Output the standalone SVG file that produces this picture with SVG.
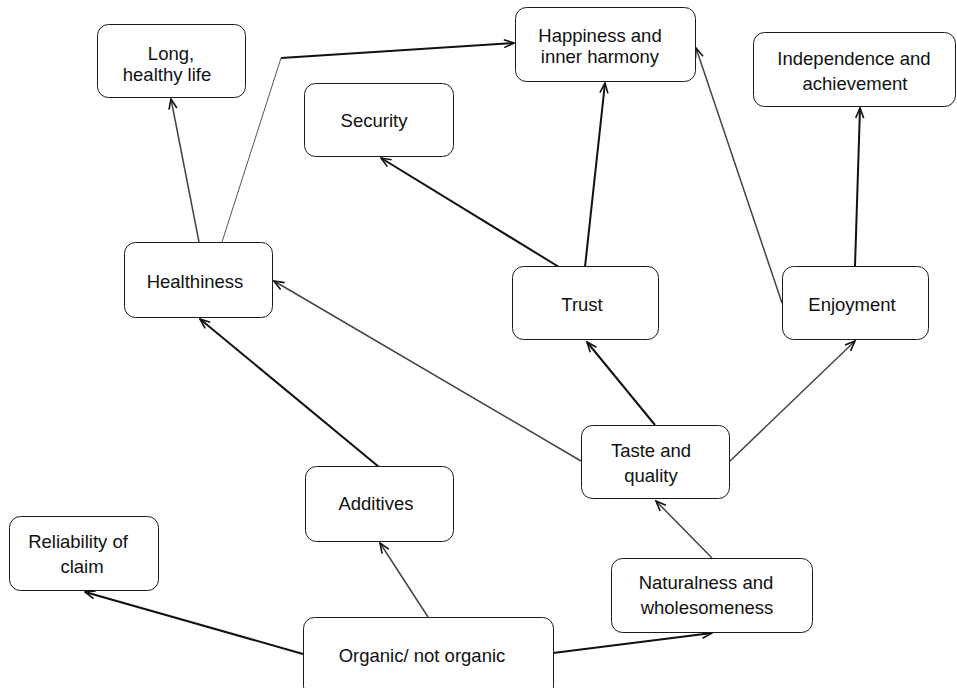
<svg xmlns="http://www.w3.org/2000/svg" width="957" height="688" viewBox="0 0 957 688">
  <style>
    .box { fill: #fff; stroke: #1a1a1a; stroke-width: 1; }
    .lbl { font-family: "Liberation Sans", Arial, sans-serif; font-size: 18.5px; fill: #111; text-anchor: middle; }
    .link { fill: none; stroke: #111; stroke-width: 2; marker-end: url(#arrow); }
    .link.soft { stroke: #444; stroke-width: 1.5; }
    .link.hair { stroke: #555; stroke-width: 1; marker-end: none; }
  </style>
  <defs>
    <marker id="arrow" viewBox="0 0 12 10" refX="11" refY="5" markerWidth="12" markerHeight="10" markerUnits="userSpaceOnUse" orient="auto">
      <path d="M1,1 L11,5 L1,9" fill="none" stroke="#111" stroke-width="1.6"/>
    </marker>
  </defs>

  <!-- connectors -->
  <g id="connectors">
    <line class="link soft" x1="199" y1="242" x2="171" y2="99"/>
    <polyline class="link hair" points="222,242 281,58"/>
    <line class="link" x1="281" y1="58" x2="514" y2="43"/>
    <line class="link" x1="559" y1="267" x2="381" y2="158"/>
    <line class="link" x1="585" y1="267" x2="605" y2="83"/>
    <line class="link soft" x1="782" y1="303" x2="696" y2="48"/>
    <line class="link" x1="855" y1="266" x2="860" y2="108"/>
    <line class="link" x1="655" y1="425" x2="587" y2="342"/>
    <line class="link soft" x1="729" y1="462" x2="855" y2="341"/>
    <line class="link soft" x1="581" y1="461" x2="274" y2="281"/>
    <line class="link" x1="379" y1="467" x2="200" y2="319"/>
    <line class="link soft" x1="712" y1="558" x2="656" y2="501"/>
    <line class="link soft" x1="428" y1="617" x2="380" y2="543"/>
    <line class="link" x1="303" y1="654" x2="85" y2="592"/>
    <line class="link" x1="553" y1="653" x2="712" y2="633"/>
  </g>

  <g id="long-healthy-life">
    <rect class="box" x="97.5" y="24.5" width="148" height="73" rx="11"/>
    <text class="lbl" x="171" y="60">Long,</text>
    <text class="lbl" x="167" y="81">healthy life</text>
  </g>

  <g id="happiness">
    <rect class="box" x="515.5" y="7.5" width="180" height="74" rx="11"/>
    <text class="lbl" x="600" y="42">Happiness and</text>
    <text class="lbl" x="600" y="63">inner harmony</text>
  </g>

  <g id="independence">
    <rect class="box" x="753.5" y="32.5" width="202" height="74" rx="11"/>
    <text class="lbl" x="854" y="65">Independence and</text>
    <text class="lbl" x="855" y="90">achievement</text>
  </g>

  <g id="security">
    <rect class="box" x="304.5" y="83.5" width="149" height="73" rx="11"/>
    <text class="lbl" x="374" y="127">Security</text>
  </g>

  <g id="healthiness">
    <rect class="box" x="124.5" y="242.5" width="148" height="75" rx="11"/>
    <text class="lbl" x="195" y="288">Healthiness</text>
  </g>

  <g id="trust">
    <rect class="box" x="512.5" y="266.5" width="146" height="73" rx="11"/>
    <text class="lbl" x="582" y="311">Trust</text>
  </g>

  <g id="enjoyment">
    <rect class="box" x="782.5" y="266.5" width="146" height="73" rx="11"/>
    <text class="lbl" x="852" y="311">Enjoyment</text>
  </g>

  <g id="taste-quality">
    <rect class="box" x="581.5" y="425.5" width="148" height="73" rx="11"/>
    <text class="lbl" x="651" y="457">Taste and</text>
    <text class="lbl" x="651" y="482">quality</text>
  </g>

  <g id="additives">
    <rect class="box" x="305.5" y="466.5" width="148" height="75" rx="11"/>
    <text class="lbl" x="376" y="510">Additives</text>
  </g>

  <g id="reliability">
    <rect class="box" x="9.5" y="516.5" width="149" height="74" rx="11"/>
    <text class="lbl" x="78" y="548">Reliability of</text>
    <text class="lbl" x="82" y="573">claim</text>
  </g>

  <g id="naturalness">
    <rect class="box" x="611.5" y="558.5" width="201" height="74" rx="11"/>
    <text class="lbl" x="706" y="589">Naturalness and</text>
    <text class="lbl" x="707" y="614">wholesomeness</text>
  </g>

  <g id="organic">
    <rect class="box" x="303.5" y="617.5" width="250" height="80" rx="11"/>
    <text class="lbl" x="422" y="662">Organic/ not organic</text>
  </g>
</svg>
